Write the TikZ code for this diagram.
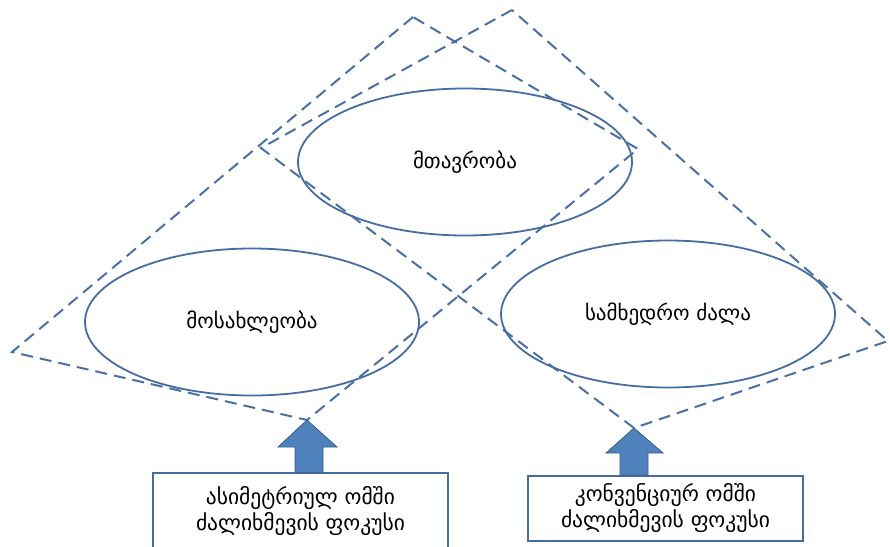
\documentclass[tikz,border=0pt]{standalone}
\usepackage{fontspec}
\setmainfont{DejaVu Sans}
\usetikzlibrary{shapes.geometric}

\definecolor{zoneblue}{RGB}{74,112,165}
\definecolor{ringblue}{RGB}{70,108,160}
\definecolor{arrowfill}{RGB}{79,129,189}
\definecolor{arrowedge}{RGB}{56,93,138}

\tikzset{
  zone/.style={draw=zoneblue, line width=2pt, dash pattern=on 12pt off 7pt},
  field/.style={ellipse, draw=ringblue, line width=1.8pt, minimum width=334pt,
    minimum height=147pt, inner sep=0pt, font=\fontsize{21}{25}\selectfont},
  focusbox/.style={rectangle, draw=ringblue, line width=1.6pt, align=center,
    inner sep=0pt, font=\fontsize{21.5}{26}\selectfont},
  blockarrow/.style={fill=arrowfill, draw=arrowedge, line width=0.8pt, line join=miter}
}

\begin{document}
\begin{tikzpicture}[x=1pt, y=-1pt]

        % Fix the page to the size of the picture
        \useasboundingbox (0,0) rectangle (890,546);

        % Corners of the two dashed zones
        \coordinate (ltop)   at (413,17);
        \coordinate (lleft)  at (12,352);
        \coordinate (lbot)   at (307,420);
        \coordinate (lright) at (638,149);
        \coordinate (rtop)   at (512,10);
        \coordinate (rleft)  at (261,148);
        \coordinate (rbot)   at (634,428);
        \coordinate (rright) at (888,341);

        % Dashed zones (asymmetric on the left, conventional on the right)
        \draw[zone] (ltop) -- (lleft) -- (lbot) -- (lright) -- cycle;
        \draw[zone] (rtop) -- (rleft) -- (rbot) -- (rright) -- cycle;

        % The three actors
        \node[field] (gov)    at (465,162) {მთავრობა};
        \node[field] (people) at (252,322) {მოსახლეობა};
        \node[field] (army)   at (668,314) {სამხედრო ძალა};

        % Focus boxes (the left one runs off the page)
        \node[focusbox, minimum width=295pt, minimum height=76pt] (asym)
            at (300.5,511) {ასიმეტრიულ ომში\\ძალიხმევის ფოკუსი};
        \node[focusbox, minimum width=275pt, minimum height=65pt] (conv)
            at (665.5,508.5) {კონვენციურ ომში\\ძალიხმევის ფოკუსი};

        % Block arrows from the boxes up to the zone corners
        \draw[blockarrow] (asym.north -| 295,0) -- (295,447) -- (278,447) -- (lbot)
            -- (337,447) -- (323,447) -- (asym.north -| 323,0) -- cycle;
        \draw[blockarrow] (conv.north -| 620,0) -- (620,453) -- (606,453) -- (rbot)
            -- (663,453) -- (648,453) -- (conv.north -| 648,0) -- cycle;

    \end{tikzpicture}
\end{document}
